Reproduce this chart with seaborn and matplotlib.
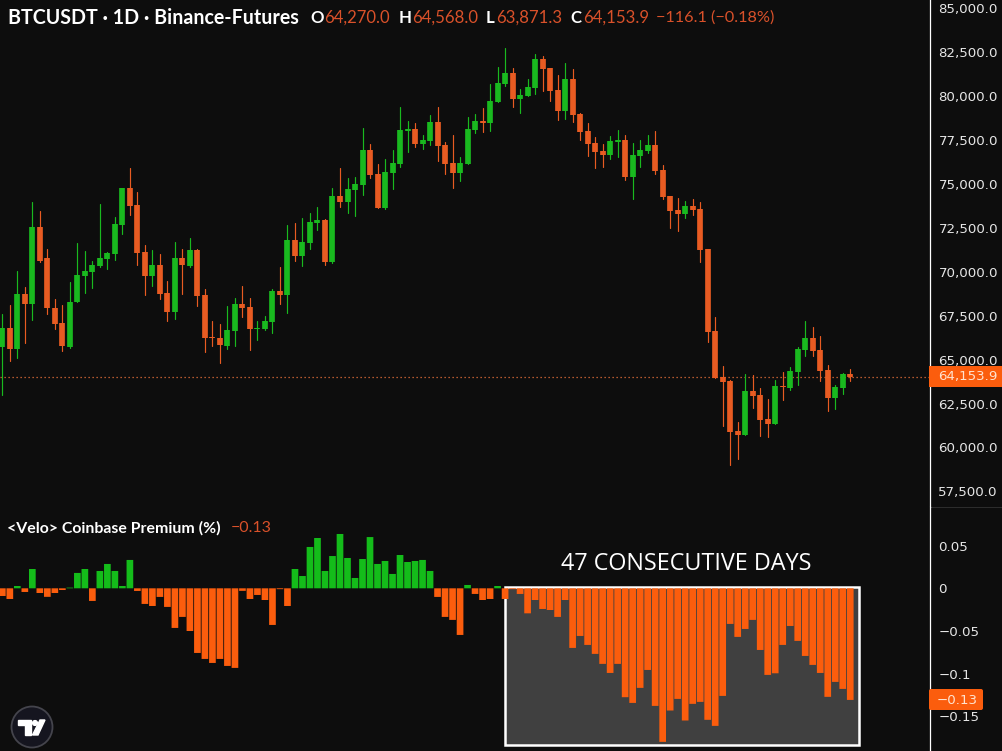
import numpy as np
import pandas as pd
import matplotlib
matplotlib.use("Agg")
import matplotlib.pyplot as plt
from matplotlib.patches import Rectangle, Circle, Polygon, FancyBboxPatch
from matplotlib.transforms import ScaledTranslation
import seaborn as sns

opens = [65840, 66940, 65710, 68840, 68270, 72640, 70890, 68082, 67227, 65840,
         68386, 69868, 70096, 70419, 70818, 71103, 72794, 74884, 73896, 71236,
         69868, 70495, 68899, 67816, 70894, 70438, 71369, 68785, 66391, 66334,
         65916, 66733, 68272, 68101, 66847, 66885, 67246, 69013, 68785, 71920,
         71008, 71749, 72889, 73060, 70666, 74428, 74086, 74770, 75055, 77050,
         75682, 73744, 75739, 76252, 78133, 78247, 77392, 77563, 78646, 77335,
         76309, 75739, 76252, 78190, 78703, 78570, 79786, 80812, 81439, 79957,
         80128, 80584, 82237, 81724, 80470, 79273, 81097, 79102, 78133, 77449,
         76993, 76765, 77506, 77620, 75511, 76708, 76993, 77335, 75910, 74428,
         73630, 73402, 73858, 73687, 71407, 66733, 64130, 63883, 61033, 60805,
         63313, 63085, 61717, 61432, 63598, 63484, 64396, 65650, 66334, 65650,
         64510, 62914, 63484, 64270]
highs = [67740, 68215, 70150, 69260, 74105, 73590, 71407, 68557, 68215, 69545,
         71768, 71293, 70742, 73953, 71255, 73212, 74903, 76005, 74637, 71635,
         71350, 71122, 69583, 71806, 71407, 72053, 71407, 69165, 67303, 67132,
         68158, 68614, 69298, 68652, 67341, 67588, 69127, 70381, 72775, 72889,
         73193, 73459, 73820, 73100, 74865, 76005, 75454, 75492, 78285, 77392,
         76252, 76537, 77050, 79501, 78703, 78589, 77905, 79045, 79501, 77506,
         77924, 76670, 78931, 79102, 79425, 80812, 81800, 82845, 81705, 80508,
         81097, 82522, 82408, 81724, 81325, 82009, 81667, 79150, 78589, 77772,
         77392, 77848, 78190, 77905, 77449, 77620, 77905, 78133, 76195, 74428,
         74295, 74143, 74257, 74086, 71407, 67531, 64738, 63978, 61546, 64282,
         64225, 63522, 62857, 63940, 64396, 64700, 65840, 67303, 66980, 66448,
         64795, 63655, 64377, 64568]
lows = [63085, 65040, 65230, 66090, 67360, 70685, 67740, 66847, 65612, 65802,
        68386, 68937, 69184, 70400, 70248, 70780, 72243, 73364, 70476, 68785,
        69336, 68557, 67303, 67417, 68880, 70400, 68158, 65555, 65916, 64947,
        65745, 65916, 67531, 65650, 66258, 66790, 66619, 68272, 67759, 70704,
        70438, 71407, 72490, 70476, 70590, 73820, 73440, 73307, 74485, 75435,
        73744, 73687, 74808, 76100, 76936, 77202, 77088, 77335, 76423, 75663,
        74884, 75264, 76252, 78038, 78057, 78133, 79786, 80698, 79482, 79159,
        80128, 80242, 80413, 79843, 78760, 78836, 78646, 77620, 76708, 76024,
        76100, 76537, 76670, 75340, 74238, 76081, 76879, 75682, 74257, 72585,
        72452, 73174, 73345, 70647, 66125, 64054, 61337, 59095, 59475, 60805,
        62382, 60748, 60691, 61432, 62800, 63408, 63655, 65346, 65346, 63883,
        62211, 62287, 63142, 63871.3]
closes = [66940, 65710, 68840, 68270, 72640, 70740, 68060, 67170, 65878, 68424,
          69925, 70134, 70495, 70894, 71198, 72832, 74884, 73858, 71179, 69868,
          70495, 68842, 67816, 70894, 70495, 71350, 68728, 66334, 66334, 65935,
          66790, 68272, 68044, 66847, 66942, 67303, 69013, 68785, 71920, 71008,
          71806, 72946, 73060, 70666, 74428, 74086, 74827, 75112, 77050, 75625,
          73744, 75796, 76309, 78190, 78247, 77392, 77620, 78646, 77278, 76252,
          75739, 76309, 78247, 78703, 78570, 79843, 80869, 81439, 79957, 80185,
          80641, 82237, 81667, 80413, 79273, 81097, 79045, 78076, 77392, 76936,
          76765, 77563, 77620, 75492, 76765, 77050, 77335, 75853, 74352, 73573,
          73402, 73858, 73630, 71350, 66676, 64054, 63826, 60976, 60805, 63313,
          63028, 61660, 61432, 63598, 63541, 64453, 65707, 66334, 65593, 64453,
          62914, 63541, 64282, 64153.9]

premium = [-0.009, -0.0125, 0.0027, -0.0043, 0.0226, -0.0055, -0.010, -0.0055, -0.002, 0.0008,
           0.018, 0.0226, -0.0148, 0.0203, 0.0285, 0.0203, 0.0027, 0.0332, -0.0031, -0.0183,
           -0.0207, -0.0101, -0.0218, -0.0464, -0.0335, -0.05, -0.0757, -0.0827, -0.0874, -0.0827,
           -0.0909, -0.0932, -0.003, -0.0125, -0.0078, -0.0137, -0.0429, -0.001, -0.0207, 0.0226,
           0.0144, 0.0484, 0.0589, 0.0203, 0.0378, 0.0636, 0.0355, 0.0121, 0.0343, 0.06,
           0.0285, 0.032, 0.0168, 0.039, 0.0308, 0.032, 0.0332, 0.0203, -0.0101, -0.0335,
           -0.037, -0.0546, 0.0039, -0.0066, -0.0137, -0.0125, 0.0027, -0.0125, -0.001, -0.0066,
           -0.0293, -0.0137, -0.0242, -0.0254, -0.0335, -0.0137, -0.0698, -0.0558, -0.0663, -0.0768,
           -0.0885, -0.0991, -0.0885, -0.1275, -0.1342, -0.1166, -0.0956, -0.1377, -0.1798, -0.1431,
           -0.1295, -0.1548, -0.1353, -0.133, -0.154, -0.1611, -0.126, -0.0417, -0.0569, -0.0476,
           -0.037, -0.0722, -0.1014, -0.0995, -0.0663, -0.0441, -0.0616, -0.0792, -0.0897, -0.0991,
           -0.1271, -0.1096, -0.1178, -0.1307]

price_ticks = [85000, 82500, 80000, 77500, 75000, 72500, 70000, 67500, 65000, 62500, 60000, 57500]
price_labels = ["85,000.0", "82,500.0", "80,000.0", "77,500.0", "75,000.0", "72,500.0",
                "70,000.0", "67,500.0", "65,000.0", "62,500.0", "60,000.0", "57,500.0"]
prem_ticks = [0.05, 0, -0.05, -0.1, -0.15]
prem_labels = ["0.05", "0", "\u22120.05", "\u22120.1", "\u22120.15"]
last_price = 64153.9
last_prem = -0.13

BG = "#0d0d0d"
GREEN = "#19b91f"
BAR_GREEN = "#14bc1a"
ORANGE = "#e85b22"
BAR_ORANGE = "#fb5d0d"
HEAD_ORANGE = "#d9512a"
W, H = 1002, 751

sns.set_theme(style="dark", rc={"axes.facecolor": BG, "figure.facecolor": BG})
plt.rcParams["font.family"] = ["Lato", "DejaVu Sans"]

fig = plt.figure(figsize=(W / 100, H / 100), dpi=100)


def box(x0, y0, x1, y1):
    # pixel box (top-left origin) to figure fractions
    return [x0 / W, 1 - y1 / H, (x1 - x0) / W, (y1 - y0) / H]


ax = fig.add_axes(box(0, 0, 929.5, 507))
ax2 = fig.add_axes(box(0, 507, 929.5, 751))

days = np.arange(len(opens))
o, h, l, c = map(np.array, (opens, highs, lows, closes))
side = np.where(c >= o, "up", "down")
pal = {"up": GREEN, "down": ORANGE}

wicks = pd.DataFrame({"day": np.repeat(days, 2),
                      "price": np.column_stack([l, h]).ravel(),
                      "side": np.repeat(side, 2)})
bodies = pd.DataFrame({"day": np.repeat(days, 2),
                       "price": np.column_stack([o, c]).ravel(),
                       "side": np.repeat(side, 2)})

ax.axhline(last_price, color="#e8703a", lw=0.9, ls=(0, (1, 2.2)), zorder=1)
sns.lineplot(data=wicks, x="day", y="price", units="day", hue="side", palette=pal,
             estimator=None, sort=False, lw=0.85, legend=False, ax=ax, zorder=2)
sns.lineplot(data=bodies, x="day", y="price", units="day", hue="side", palette=pal,
             estimator=None, sort=False, lw=4.1, legend=False, ax=ax, zorder=3,
             solid_capstyle="butt")

prem_side = np.where(np.array(premium) >= 0, "up", "down")
sns.barplot(x=days, y=premium, hue=prem_side, palette={"up": BAR_GREEN, "down": BAR_ORANGE},
            native_scale=True, dodge=False, width=0.89, saturation=1, legend=False, ax=ax2,
            edgecolor="none", linewidth=0, zorder=3)
# keep the bars evenly spaced instead of snapping to whole pixels
for bar in ax2.patches:
    bar.set_snap(False)

# gray highlight behind the last 47 days
ax2.add_patch(Rectangle((67.0, 0.002), 47.2, -0.185, facecolor="#404040", edgecolor="white",
                        lw=1.8, zorder=2))
ax2.text(91.2, 0.0282, "47 CONSECUTIVE DAYS", color="white", fontsize=16.8,
         family="Open Sans", ha="center", va="center", zorder=5)

x_lim = (-0.31, 123.56)
ax.set_xlim(x_lim)
ax2.set_xlim(x_lim)
ax.set_ylim(56722, 85596)
ax2.set_ylim(-0.1905, 0.0952)

for a, ticks, labels in ((ax, price_ticks, price_labels), (ax2, prem_ticks, prem_labels)):
    a.set_xlabel("")
    a.set_ylabel("")
    a.set_xticks([])
    a.grid(False)
    a.yaxis.tick_right()
    a.set_yticks(ticks)
    a.set_yticklabels(labels, family="DejaVu Sans", fontsize=9.6, color="#e6e6e6")
    a.tick_params(axis="y", length=0, pad=6.4)
    for name in ("top", "left", "bottom"):
        a.spines[name].set_visible(False)
    a.spines["right"].set_visible(True)
    a.spines["right"].set_color("white")
    a.spines["right"].set_linewidth(0.9)

# price labels sit a little above their levels in the reference
shift_up = ScaledTranslation(0, 2 / 100, fig.dpi_scale_trans)
for lbl in ax.get_yticklabels():
    lbl.set_transform(lbl.get_transform() + shift_up)

# pane separator
fig.add_artist(Rectangle((0, 1 - 507.5 / H), 1, 1 / H, transform=fig.transFigure,
                         facecolor="#2c2c2c", edgecolor="none", zorder=0))


def px_text(x, y, s, **kw):
    fig.text(x / W, 1 - y / H, s, va="center", **kw)


# header
px_text(8, 18, "BTCUSDT \u00b7 1D \u00b7 Binance-Futures", color="white", fontsize=14.15, weight="bold")
head = [(310, "O", "white"), (324, "64,270.0", HEAD_ORANGE), (399, "H", "white"),
        (412, "64,568.0", HEAD_ORANGE), (486, "L", "white"), (496, "63,871.3", HEAD_ORANGE),
        (570, "C", "white"), (583, "64,153.9", HEAD_ORANGE)]
for x, s, col in head:
    px_text(x, 18, s, color=col, fontsize=12.1, weight="bold" if col == "white" else "normal")
px_text(656, 18, "\u2212116.1 (\u22120.18%)", color=HEAD_ORANGE, fontsize=11.7)
px_text(7, 528, "<Velo> Coinbase Premium (%)", color="white", fontsize=11.4, weight="bold")
px_text(231, 528, "\u22120.13", color=HEAD_ORANGE, fontsize=11.5)

# overlay in pixel coordinates for the tags and the logo
over = fig.add_axes([0, 0, 1, 1], facecolor="none")
over.set_xlim(0, W)
over.set_ylim(H, 0)
over.axis("off")
over.add_patch(Rectangle((929, 366), 73, 21, facecolor=BAR_ORANGE, edgecolor="none"))
over.text(968, 376.5, "64,153.9", color="#ffe3cf", fontsize=9.6, family="DejaVu Sans",
          ha="center", va="center")
over.add_patch(FancyBboxPatch((931, 691), 50, 17, boxstyle="round,pad=2,rounding_size=2",
                              facecolor=BAR_ORANGE, edgecolor="none"))
over.text(957, 700, "\u22120.13", color="#ffe3cf", fontsize=9.6, family="DejaVu Sans",
          ha="center", va="center")
over.add_patch(Circle((32, 727), 20.5, facecolor="#15151f", edgecolor="#44444c", lw=1.3))
over.add_patch(Polygon([(18, 720), (31, 720), (31, 735), (25, 735), (25, 725), (18, 725)], color="white"))
over.add_patch(Circle((35, 723), 2.4, color="white"))
over.add_patch(Polygon([(40, 720), (45, 720), (38, 735), (32.5, 735)], color="white"))

fig.savefig("out.png", dpi=100, facecolor=BG)
